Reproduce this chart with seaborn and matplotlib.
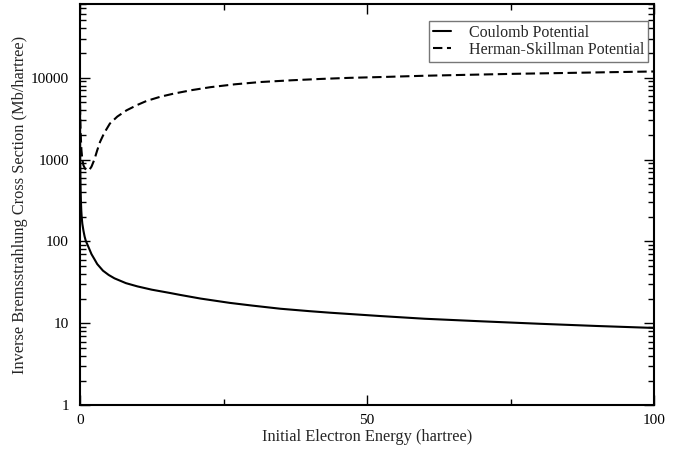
import numpy as np
import pandas as pd
import matplotlib
matplotlib.use("Agg")
import matplotlib.pyplot as plt
import matplotlib.ticker as mticker
import seaborn as sns

# Data
coulomb_E = [0.003, 0.01, 0.02, 0.04, 0.07, 0.1, 0.15, 0.22, 0.29, 0.4, 0.6, 0.8, 1.0, 1.4, 2.0, 2.5, 3.0, 4.0,
             5.0, 6.0, 8.0, 10.0, 12.5, 15.7, 17.4, 21.0, 26.1, 30.0, 34.9, 40.0, 43.6, 52.3, 60.0, 70.0, 80.0,
             90.0, 100.0]
coulomb_sigma = [6000, 3000, 1800, 1000, 620, 450, 320, 240, 200, 165, 135, 115, 102, 88, 70, 61, 53, 44,
                 39, 35.5, 31, 28.3, 25.8, 23.5, 22.3, 20.1, 17.8, 16.5, 15.1, 14.1, 13.5, 12.3, 11.4, 10.6,
                 9.9, 9.3, 8.8]

hs_E = [0.005, 0.03, 0.08, 0.15, 0.25, 0.4, 0.6, 0.9, 1.2, 1.6, 2.0, 2.5, 3.0, 3.5, 4.2, 5.2, 6.5, 8.1,
        10.0, 11.6, 14.0, 16.3, 19.5, 22.7, 27.0, 31.4, 37.0, 42.0, 47.0, 52.3, 60.0, 68.0, 76.0, 83.7,
        92.0, 100.0]
hs_sigma = [4600, 3500, 2500, 1800, 1300, 1000, 850, 770, 740, 745, 820, 1000, 1300, 1650, 2100, 2750, 3350,
            3990, 4650, 5200, 5850, 6380, 7050, 7650, 8300, 8840, 9300, 9650, 9950, 10170, 10550, 10850,
            11150, 11380, 11650, 11900]

labels = ["Coulomb Potential", "Herman-Skillman Potential"]

df = pd.concat([
    pd.DataFrame({"E": coulomb_E, "sigma": coulomb_sigma, "Potential": labels[0]}),
    pd.DataFrame({"E": hs_E, "sigma": hs_sigma, "Potential": labels[1]}),
], ignore_index=True)

sns.set_style("ticks")
plt.rcParams["font.family"] = ["Liberation Serif", "DejaVu Serif"]

fig = plt.figure(figsize=(6.94, 4.49), dpi=100)
ax = fig.add_axes([0.1153, 0.0973, 0.9424 - 0.1153, 0.9918 - 0.0973])

sns.lineplot(data=df, x="E", y="sigma", hue="Potential", style="Potential",
             palette=["black", "black"], dashes=[(None, None), (4.5, 2.2)],
             linewidth=1.5, ax=ax, estimator=None, sort=False)

ax.set_yscale("log")
ax.set_xlim(0, 100)
ax.set_ylim(1, 80000)

ax.xaxis.set_major_locator(mticker.FixedLocator([0, 50, 100]))
ax.xaxis.set_minor_locator(mticker.FixedLocator([25, 75]))
ax.yaxis.set_major_locator(mticker.LogLocator(base=10, numticks=10))
ax.yaxis.set_minor_locator(mticker.LogLocator(base=10, subs=np.arange(2, 10), numticks=20))
ax.yaxis.set_minor_formatter(mticker.NullFormatter())
ax.yaxis.set_major_formatter(mticker.FuncFormatter(lambda v, p: f"{int(round(v))}"))

ax.tick_params(which="both", direction="in", top=True, right=True, colors="black",
               labelsize=11, width=1.0)
ax.tick_params(axis="x", which="both", pad=6.5)
ax.tick_params(axis="y", which="both", pad=8)
ax.tick_params(which="major", length=7.5)
ax.tick_params(which="minor", length=4)
for s in ax.spines.values():
    s.set_linewidth(1.5)
    s.set_color("black")

ax.set_xlabel("Initial Electron Energy (hartree)", fontsize=11.8, labelpad=1)
ax.set_ylabel("Inverse Bremsstrahlung Cross Section (Mb/hartree)", fontsize=11.8, labelpad=2)

leg = ax.legend(loc="upper right", bbox_to_anchor=(0.9895, 0.957), borderaxespad=0,
                fontsize=11.5, frameon=True, fancybox=False,
                edgecolor="#555555", handlelength=1.15, handletextpad=1.1,
                borderpad=0.25, labelspacing=0.05)
leg.get_frame().set_linewidth(1.0)

fig.savefig("out.png", dpi=100)
